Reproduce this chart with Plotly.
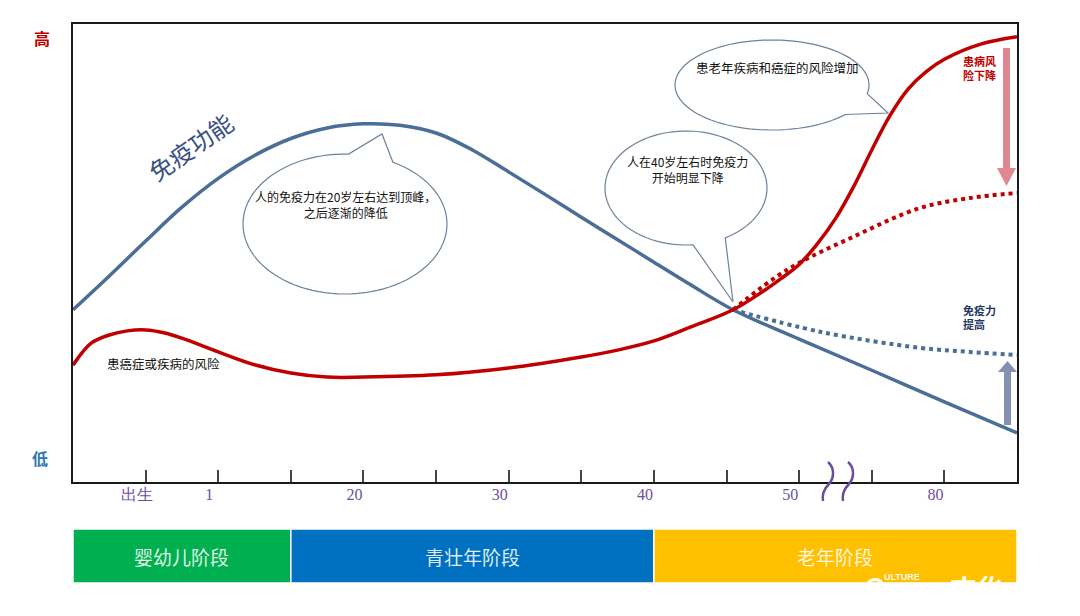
import math
import plotly.graph_objects as go

# ---------------- data ----------------
# x = position along the (non-linear) life timeline, one unit per tick; y = relative level (0 = 低, 100 = 高)
tick_pos = [1, 2, 3, 4, 5, 6, 7, 8, 9, 10, 11, 12]
tick_text = ["出生", "1", "", "20", "", "30", "", "40", "", "50", "", "80"]

immune_x = [0.0, 0.5, 1.0, 1.5, 2.0, 2.5, 3.0, 3.5, 4.0, 4.5, 5.0, 5.5, 6.0, 6.5, 7.0, 7.5,
            8.0, 8.5, 9.09, 10.0, 11.0, 12.0, 13.0]
immune_y = [37.6, 45.0, 52.6, 60.0, 66.3, 71.3, 75.0, 77.3, 78.2, 77.9, 76.2, 72.5, 67.7, 62.8,
            57.8, 52.9, 48.0, 43.1, 37.6, 31.2, 24.4, 17.5, 10.7]

risk_x = [0.0, 0.25, 0.5, 0.75, 1.0, 1.25, 1.5, 2.0, 2.5, 3.0, 3.5, 4.0, 5.0, 6.0, 7.0, 7.5,
          8.0, 8.5, 9.09, 9.5, 9.75, 10.0, 10.25, 10.5, 10.75, 11.0, 11.25, 11.5, 11.75,
          12.0, 12.5, 13.0]
risk_y = [25.5, 30.3, 32.1, 33.0, 33.2, 32.6, 31.4, 28.4, 25.6, 23.8, 22.9, 22.9, 23.4, 24.9,
          27.3, 28.8, 30.8, 33.8, 37.6, 41.6, 44.4, 47.5, 52.0, 57.5, 64.5, 72.5, 80.0, 85.8,
          89.6, 92.3, 95.6, 97.2]

risk_improved_x = [9.09, 9.83, 10.74, 11.66, 12.35, 13.00]
risk_improved_y = [37.6, 46.3, 53.5, 59.8, 62.0, 63.1]

immune_improved_x = [9.09, 10.29, 11.66, 12.35, 13.00]
immune_improved_y = [37.6, 32.8, 29.3, 28.4, 27.7]

stage_names = ["婴幼儿阶段", "青壮年阶段", "老年阶段"]
stage_start = [0, 3, 8]
stage_end = [3, 8, 13]
stage_colors = ["#00B050", "#0070C0", "#FFC000"]

# ---------------- layout helpers (pixel -> paper) ----------------
W, H = 1080, 616
L, R, T, B = 73, 1017, 24, 482


def px(x):
    return (x - L) / (R - L)


def py(y):
    return (B - y) / (B - T)


def bubble_path(cx, cy, rx, ry, g1, g2, tip, n=90):
    pts = []
    span = 360 - (g2 - g1)
    for k in range(n + 1):
        th = math.radians(g2 + span * k / n)
        pts.append((cx + rx * math.cos(th), cy + ry * math.sin(th)))
    s = "M " + " L ".join(f"{px(a):.5f},{py(b):.5f}" for a, b in pts)
    s += f" L {px(tip[0]):.5f},{py(tip[1]):.5f} Z"
    return s


def poly(points):
    return "M " + " L ".join(f"{px(a):.5f},{py(b):.5f}" for a, b in points) + " Z"


CJK = "Noto Sans CJK SC"
BLUE = "#4A6E96"
RED = "#C00000"

fig = go.Figure()

fig.add_trace(go.Scatter(x=risk_improved_x, y=risk_improved_y, mode="lines",
                         line=dict(color=RED, width=4, dash="dot", shape="spline"),
                         hoverinfo="skip", showlegend=False))
fig.add_trace(go.Scatter(x=immune_improved_x, y=immune_improved_y, mode="lines",
                         line=dict(color=BLUE, width=4, dash="dot", shape="spline"),
                         hoverinfo="skip", showlegend=False))
fig.add_trace(go.Scatter(x=immune_x, y=immune_y, mode="lines",
                         line=dict(color=BLUE, width=3.5, shape="spline", smoothing=1),
                         hoverinfo="skip", showlegend=False))
fig.add_trace(go.Scatter(x=risk_x, y=risk_y, mode="lines",
                         line=dict(color=RED, width=3.5, shape="spline", smoothing=1),
                         hoverinfo="skip", showlegend=False))

shapes = []
# speech bubbles
bub_line = dict(color="#6E819A", width=1.2)
shapes.append(dict(type="path", xref="paper", yref="paper", layer="below",
                   path=bubble_path(345, 224, 102, 70, -88, -62, (382, 134)),
                   line=bub_line, fillcolor="white"))
shapes.append(dict(type="path", xref="paper", yref="paper", layer="below",
                   path=bubble_path(686, 188, 81, 57, 61, 85, (733, 302)),
                   line=bub_line, fillcolor="white"))
shapes.append(dict(type="path", xref="paper", yref="paper", layer="below",
                   path=bubble_path(772, 85, 97, 45, 11, 41, (888, 113)),
                   line=bub_line, fillcolor="white"))

# arrows on the right
shapes.append(dict(type="path", xref="paper", yref="paper", layer="above",
                   path=poly([(1003, 48), (1010, 48), (1010, 168), (1016, 168), (1006.5, 186),
                              (997, 168), (1003, 168)]),
                   line=dict(width=0), fillcolor="rgba(214,96,108,0.75)"))
shapes.append(dict(type="path", xref="paper", yref="paper", layer="above",
                   path=poly([(1004, 425), (1011, 425), (1011, 372), (1017, 372), (1007.5, 361),
                              (998, 372), (1004, 372)]),
                   line=dict(width=0), fillcolor="rgba(110,125,165,0.85)"))

# axis break marks
brk = dict(color="#6A4C9C", width=2.5)
for dx in (0, 20):
    shapes.append(dict(type="path", xref="paper", yref="paper", layer="above",
                       path=(f"M {px(828+dx):.5f},{py(462):.5f} "
                             f"C {px(834+dx):.5f},{py(467):.5f} {px(835+dx):.5f},{py(477):.5f} "
                             f"{px(829+dx):.5f},{py(484):.5f} "
                             f"C {px(823+dx):.5f},{py(490):.5f} {px(822+dx):.5f},{py(495):.5f} "
                             f"{px(823+dx):.5f},{py(501):.5f}"),
                       line=brk))

# stage bars (data driven along x)
for s0, s1, c in zip(stage_start, stage_end, stage_colors):
    shapes.append(dict(type="rect", xref="x", yref="paper", x0=s0, x1=s1,
                       y0=py(583), y1=py(529), fillcolor=c, line=dict(color="white", width=1.5),
                       layer="above"))

annotations = []
for name, s0, s1 in zip(stage_names, stage_start, stage_end):
    annotations.append(dict(xref="x", yref="paper", x=(s0 + s1) / 2, y=py(556), text=name,
                            showarrow=False, xanchor="center", yanchor="middle",
                            font=dict(family=CJK, size=19, color="rgba(255,255,255,0.88)")))


def txt(x, y, text, size=12.5, color="#111111", xanchor="center", angle=0, weight="normal",
        align="center", family=CJK):
    annotations.append(dict(xref="paper", yref="paper", x=px(x), y=py(y), text=text,
                            showarrow=False, xanchor=xanchor, yanchor="middle", textangle=angle,
                            align=align,
                            font=dict(family=family, size=size, color=color, weight=weight)))


txt(42, 38, "高", size=16, color="#C00000", weight="bold")
txt(40, 458, "低", size=16, color="#2E75B6", weight="bold")
txt(190, 146, "免疫功能", size=24, color="#3A5085", angle=-35)
txt(345, 204, "人的免疫力在20岁左右达到顶峰，<br>之后逐渐的降低", size=12)
txt(687, 170, "人在40岁左右时免疫力<br>开始明显下降", size=12)
txt(777, 67, "患老年疾病和癌症的风险增加")
txt(105, 363, "患癌症或疾病的风险", xanchor="left")
txt(961, 68, "患病风<br>险下降", size=11, color="#C00000", xanchor="left", weight="bold",
    align="left")
txt(961, 317, "免疫力<br>提高", size=11, color="#1F3864", xanchor="left", weight="bold",
    align="left")

# watermark (white, partly hidden below the yellow band)
WM = "rgba(255,255,255,0.95)"
txt(862, 587, "<i>C</i>", size=26, color=WM, xanchor="left", weight="bold", family="Liberation Sans")
txt(882, 577, "ULTURE", size=9, color=WM, xanchor="left", weight="bold", family="Liberation Sans")
txt(944, 586, "<i>文化</i>", size=26, color=WM, xanchor="left", weight="bold")

fig.update_layout(
    width=W, height=H,
    margin=dict(l=L, r=W - R, t=T, b=H - B, pad=0),
    paper_bgcolor="white", plot_bgcolor="white",
    shapes=shapes, annotations=annotations, showlegend=False,
    xaxis=dict(range=[0, 13], tickvals=tick_pos, ticktext=tick_text, ticks="inside", ticklen=12,
               tickwidth=1.5, tickcolor="#444444", showgrid=False, zeroline=False,
               showline=True, linecolor="#1a1a1a", linewidth=2, mirror=True,
               ticklabelshift=-9, ticklabelstandoff=-3,
               tickfont=dict(family="Liberation Serif", size=16, color="#6E4E9E"), fixedrange=True),
    yaxis=dict(range=[0, 100], showticklabels=False, ticks="", showgrid=False, zeroline=False,
               showline=True, linecolor="#1a1a1a", linewidth=2, mirror=True, fixedrange=True),
)

fig.write_html("out.html")
